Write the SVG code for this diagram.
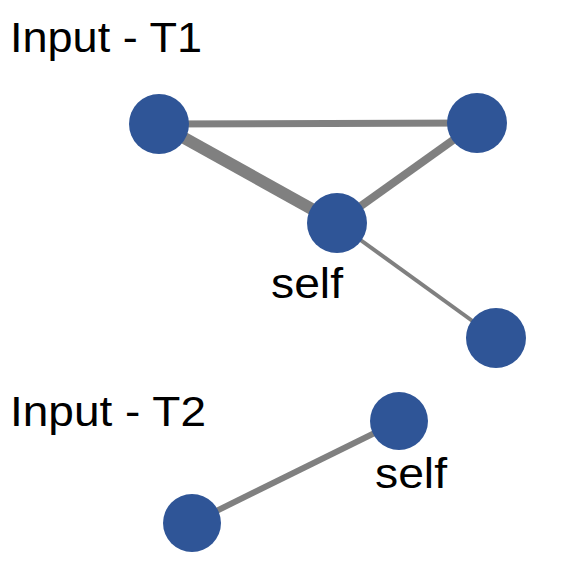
<svg xmlns="http://www.w3.org/2000/svg" width="567" height="567" viewBox="0 0 567 567">
  <style>
    .node { fill: #2F5597; }
    .edge { stroke: #808080; stroke-linecap: butt; fill: none; }
    .label { font-family: "Liberation Sans", Arial, sans-serif; font-size: 43px; fill: #000; }
  </style>
  <rect width="567" height="567" fill="#fff"/>

  <!-- connectors -->
  <g id="edges">
    <line class="edge" x1="159" y1="124" x2="477" y2="123" stroke-width="7"/>
    <line class="edge" x1="159" y1="124" x2="337" y2="223" stroke-width="12"/>
    <line class="edge" x1="477" y1="123" x2="337" y2="223" stroke-width="8"/>
    <line class="edge" x1="337" y1="223" x2="496" y2="338" stroke-width="4"/>
    <line class="edge" x1="399" y1="421" x2="192" y2="523" stroke-width="6"/>
  </g>

  <text class="label" x="10" y="52" textLength="192" lengthAdjust="spacingAndGlyphs">Input - T1</text>
  <text class="label" x="10" y="426" textLength="196" lengthAdjust="spacingAndGlyphs">Input - T2</text>

  <!-- T1 graph -->
  <g id="t1-a"><circle class="node" cx="159" cy="124" r="30"/></g>
  <g id="t1-b"><circle class="node" cx="477" cy="123" r="30"/></g>
  <g id="t1-self">
    <circle class="node" cx="337" cy="223" r="30"/>
    <text class="label" x="271" y="298" textLength="72" lengthAdjust="spacingAndGlyphs">self</text>
  </g>
  <g id="t1-d"><circle class="node" cx="496" cy="338" r="30"/></g>

  <!-- T2 graph -->
  <g id="t2-self">
    <circle class="node" cx="399" cy="421" r="29"/>
    <text class="label" x="375" y="488" textLength="72" lengthAdjust="spacingAndGlyphs">self</text>
  </g>
  <g id="t2-b"><circle class="node" cx="192" cy="523" r="29"/></g>
</svg>
